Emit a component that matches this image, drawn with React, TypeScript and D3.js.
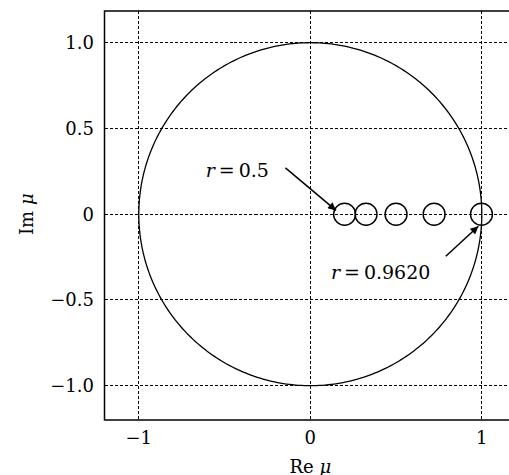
import React from "react";
import * as d3 from "d3";

// Eigenvalue positions on the real axis (Re μ) for increasing r
const muRe = [0.2, 0.325, 0.5, 0.722, 0.998];
const muIm = [0, 0, 0, 0, 0];
const markerRadius = 0.064;

const xTicks = [-1, 0, 1];
const yTicks = [-1.0, -0.5, 0, 0.5, 1.0];
const xTickLabels = ["\u22121", "0", "1"];
const yTickLabels = ["\u22121.0", "\u22120.5", "0", "0.5", "1.0"];

// Annotations: label text, label anchor and arrow tip (data coordinates)
const annoText = ["0.5", "0.9620"];
const annoLabel: [number, number][] = [[-0.61, 0.26], [0.12, -0.335]];
const annoTail: [number, number][] = [[-0.145, 0.27], [0.79, -0.245]];
const annoTip: [number, number][] = [[0.15, 0.022], [0.98, -0.07]];

const W = 509;
const H = 475;
const left = 104.5;
const top = 11;
const bottom = 420;

export default function App() {
  const x = d3.scaleLinear().domain([-1.2, 1.2]).range([left, left + 411.6]);
  const y = d3.scaleLinear().domain([-1.2, 1.2]).range([bottom, bottom - 411.6]);
  const font = "'DejaVu Serif', serif";

  // Unit circle as a dense polyline
  const circlePts = d3.range(0, 361, 1).map((a) => {
    const t = (a * Math.PI) / 180;
    return [Math.cos(t), Math.sin(t)] as [number, number];
  });
  const line = d3
    .line<[number, number]>()
    .x((d) => x(d[0]))
    .y((d) => y(d[1]));

  const rPx = x(markerRadius) - x(0);

  return (
    <svg
      width={W}
      height={H}
      style={{ position: "absolute", left: 0, top: 0, background: "#fff" }}
    >
      <defs>
        <marker
          id="arr"
          viewBox="0 0 10 10"
          refX="10"
          refY="5"
          markerWidth="12"
          markerHeight="8"
          markerUnits="userSpaceOnUse"
          orient="auto"
        >
          <path d="M0,0 L10,5 L0,10 z" fill="#000" />
        </marker>
        <clipPath id="plot">
          <rect x={left} y={top} width={x(1.2) - left} height={bottom - top} />
        </clipPath>
      </defs>

      {/* grid */}
      <g stroke="#000" strokeWidth={1} strokeDasharray="3,2" shapeRendering="crispEdges">
        {xTicks.map((t) => (
          <line key={"gx" + t} x1={x(t)} x2={x(t)} y1={top} y2={bottom} />
        ))}
        {yTicks.map((t) => (
          <line key={"gy" + t} x1={left} x2={x(1.2)} y1={y(t)} y2={y(t)} />
        ))}
      </g>

      <g clipPath="url(#plot)">
        <path d={line(circlePts) ?? ""} fill="none" stroke="#000" strokeWidth={1.3} />
        {muRe.map((m, i) => (
          <circle
            key={i}
            cx={x(m)}
            cy={y(muIm[i])}
            r={rPx}
            fill="none"
            stroke="#000"
            strokeWidth={1.4}
          />
        ))}
      </g>

      {/* annotations */}
      {annoText.map((t, i) => (
        <g key={"a" + i}>
          <text
            x={x(annoLabel[i][0])}
            y={y(annoLabel[i][1])}
            fontFamily={font}
            fontSize={19}
            dominantBaseline="central"
          >
            <tspan fontStyle="italic">r</tspan>
            <tspan dx={4}>=</tspan>
            <tspan dx={4}>{t}</tspan>
          </text>
          <line
            x1={x(annoTail[i][0])}
            y1={y(annoTail[i][1])}
            x2={x(annoTip[i][0])}
            y2={y(annoTip[i][1])}
            stroke="#000"
            strokeWidth={1.5}
            markerEnd="url(#arr)"
          />
        </g>
      ))}

      {/* frame */}
      <rect
        x={left}
        y={top}
        width={x(1.2) - left}
        height={bottom - top}
        fill="none"
        stroke="#000"
        strokeWidth={1.5}
      />

      {/* tick labels */}
      <g fontFamily={font} fontSize={18} fill="#000">
        {xTicks.map((t, i) => (
          <text key={"tx" + t} x={x(t)} y={437} textAnchor="middle" dominantBaseline="central">
            {xTickLabels[i]}
          </text>
        ))}
        {yTicks.map((t, i) => (
          <text key={"ty" + t} x={94} y={y(t)} textAnchor="end" dominantBaseline="central">
            {yTickLabels[i]}
          </text>
        ))}
      </g>

      {/* axis titles */}
      <text x={x(0)} y={466} textAnchor="middle" dominantBaseline="central" fontFamily={font} fontSize={18}>
        Re <tspan fontStyle="italic">μ</tspan>
      </text>
      <text
        transform={`translate(26,${y(0)}) rotate(-90)`}
        textAnchor="middle"
        dominantBaseline="central"
        fontFamily={font}
        fontSize={18}
      >
        Im <tspan fontStyle="italic">μ</tspan>
      </text>
    </svg>
  );
}
